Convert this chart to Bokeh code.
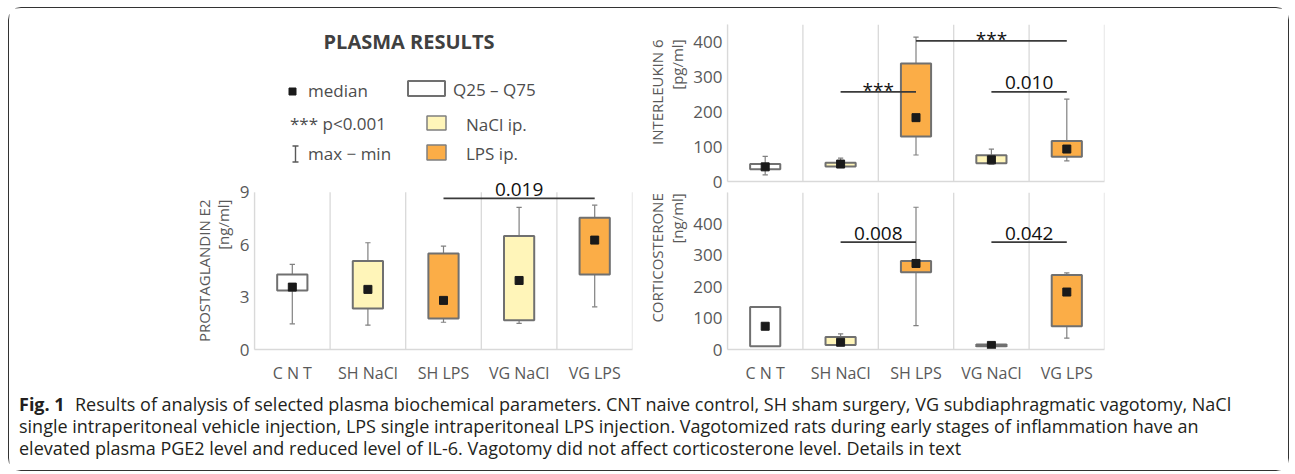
import math
from bokeh.plotting import figure
from bokeh.layouts import column, row
from bokeh.models import Range1d, FixedTicker, LinearAxis, ColumnDataSource
from bokeh.core.properties import value
from bokeh.embed import file_html
from bokeh.resources import INLINE

# ---------------- data ----------------
categories = ["C N T", "SH NaCl", "SH LPS", "VG NaCl", "VG LPS"]
treatment = ["CNT", "NaCl", "LPS", "NaCl", "LPS"]

pge2_q25 = [3.38, 2.35, 1.77, 1.68, 4.29]
pge2_q75 = [4.29, 5.06, 5.50, 6.49, 7.54]
pge2_med = [3.57, 3.44, 2.81, 3.95, 6.26]
pge2_max = [4.87, 6.11, 5.92, 8.13, 8.26]
pge2_min = [1.47, 1.39, 1.56, 1.49, 2.44]
pge2_ticks = [0, 3, 6, 9]
pge2_title = ["PROSTAGLANDIN E2", "[ng/ml]"]
pge2_sig_from = ["SH LPS"]
pge2_sig_to = ["VG LPS"]
pge2_sig_y = [8.65]
pge2_sig_label = ["0.019"]

il6_q25 = [35, 43, 129, 52, 71]
il6_q75 = [50, 54, 338, 75, 116]
il6_med = [42, 50, 183, 62, 93]
il6_max = [72, 67, 414, 93, 236]
il6_min = [19, 45, 76, 50, 59]
il6_ticks = [0, 100, 200, 300, 400]
il6_title = ["INTERLEUKIN 6", "[pg/ml]"]
il6_sig_from = ["SH NaCl", "SH LPS", "VG NaCl"]
il6_sig_to = ["SH LPS", "VG LPS", "VG LPS"]
il6_sig_y = [257, 403, 257]
il6_sig_label = ["***", "***", "0.010"]

cort_q25 = [10, 14, 246, 10, 74]
cort_q75 = [135, 40, 282, 16, 237]
cort_med = [74, 23, 274, 13, 183]
cort_max = [135, 50, 453, 16, 244]
cort_min = [10, 14, 76, 10, 36]
cort_ticks = [0, 100, 200, 300, 400]
cort_title = ["CORTICOSTERONE", "[ng/ml]"]
cort_sig_from = ["SH NaCl", "VG NaCl"]
cort_sig_to = ["SH LPS", "VG LPS"]
cort_sig_y = [342, 342]
cort_sig_label = ["0.008", "0.042"]

caption_lines = [
    "Results of analysis of selected plasma biochemical parameters. CNT naive control, SH sham surgery, VG subdiaphragmatic vagotomy, NaCl",
    "single intraperitoneal vehicle injection, LPS single intraperitoneal LPS injection. Vagotomized rats during early stages of inflammation have an",
    "elevated plasma PGE2 level and reduced level of IL-6. Vagotomy did not affect corticosterone level. Details in text",
]

# ---------------- styles ----------------
FONT = value("Open Sans")
FILL = {"CNT": "#FFFFFF", "NaCl": "#FFF5B9", "LPS": "#FBAD47"}
GRID = "#D9D9D9"
TXT = "#595959"
BOX_LINE = "#707070"


def panel(q25, q75, med, mx, mn, ymax, ytop, frame_h, ticks, sig_from, sig_to, sig_y,
          sig_label, w, h, bl, br, bt, bb, show_x):
    n = len(categories)
    p = figure(width=w, height=h, x_range=Range1d(0, n), y_range=Range1d(0, ymax),
               toolbar_location=None, output_backend="svg",
               x_axis_location="below" if show_x else None,
               min_border_left=bl, min_border_right=br, min_border_top=bt, min_border_bottom=bb,
               outline_line_color=None, background_fill_color="white", border_fill_color="white")
    p.xgrid.visible = False
    p.ygrid.visible = False
    xs = [i + 0.5 for i in range(n)]

    # separators between groups
    p.segment(x0=list(range(n + 1)), y0=[0] * (n + 1), x1=list(range(n + 1)), y1=[ytop] * (n + 1),
              line_color=GRID, line_width=1.3)

    if not show_x:
        ax = LinearAxis(ticker=FixedTicker(ticks=[]), axis_line_color=GRID, axis_line_width=1.3,
                        major_tick_line_color=None, minor_tick_line_color=None,
                        major_tick_out=0, minor_tick_out=0)
        p.add_layout(ax, "below")
    else:
        xa = p.xaxis[0]
        xa.ticker = FixedTicker(ticks=xs)
        xa.major_label_overrides = {x: c for x, c in zip(xs, categories)}
        xa.axis_line_color = GRID
        xa.axis_line_width = 1.3
        xa.major_tick_line_color = None
        xa.minor_tick_line_color = None
        xa.major_tick_out = 0
        xa.minor_tick_out = 0
        xa.major_label_text_font = "Open Sans"
        xa.major_label_text_font_size = "16px"
        xa.major_label_text_color = TXT
        xa.major_label_standoff = 12

    ya = p.yaxis[0]
    ya.ticker = FixedTicker(ticks=ticks)
    ya.bounds = (0, ytop)
    ya.axis_line_color = GRID
    ya.axis_line_width = 1.3
    ya.major_tick_line_color = None
    ya.minor_tick_line_color = None
    ya.major_tick_out = 0
    ya.minor_tick_out = 0
    ya.major_label_text_font = "Open Sans"
    ya.major_label_text_font_size = "17px"
    ya.major_label_text_color = TXT
    ya.major_label_standoff = 5

    src = ColumnDataSource(dict(x=xs, q25=q25, q75=q75, med=med, mx=mx, mn=mn,
                                fill=[FILL[t] for t in treatment]))
    # whiskers
    p.segment(x0="x", y0="mn", x1="x", y1="mx", source=src, line_color="#808080", line_width=1.2)
    cap = 0.035
    p.segment(x0=[x - cap for x in xs], y0=mx, x1=[x + cap for x in xs], y1=mx,
              line_color="#808080", line_width=1.2)
    p.segment(x0=[x - cap for x in xs], y0=mn, x1=[x + cap for x in xs], y1=mn,
              line_color="#808080", line_width=1.2)
    # boxes
    p.vbar(x="x", bottom="q25", top="q75", width=0.4, source=src, fill_color="fill",
           line_color=BOX_LINE, line_width=2)
    # medians
    p.scatter(x="x", y="med", source=src, marker="square", size=8, fill_color="#1A1A1A",
              line_color="#1A1A1A")

    # significance brackets
    idx = {c: i + 0.5 for i, c in enumerate(categories)}
    x0 = [idx[a] for a in sig_from]
    x1 = [idx[b] for b in sig_to]
    p.segment(x0=x0, y0=sig_y, x1=x1, y1=sig_y, line_color="#3A3A3A", line_width=1.6)
    unit = ymax / frame_h  # data units per pixel
    lab_y = [y + (2 if lab == "***" else 9) * unit for y, lab in zip(sig_y, sig_label)]
    tsrc = ColumnDataSource(dict(x=[(a + b) / 2 for a, b in zip(x0, x1)], y=lab_y, t=sig_label))
    p.text(x="x", y="y", text="t", source=tsrc, text_align="center", text_baseline="middle",
           text_font=FONT, text_font_size="19px", text_color="#111111")
    return p


def canvas(w, h, x0, x1, ybottom, ytop, bl=0, br=0):
    c = figure(width=w, height=h, x_range=Range1d(x0, x1), y_range=Range1d(ybottom, ytop),
               toolbar_location=None, output_backend="svg", x_axis_location=None,
               y_axis_location=None, min_border=0, min_border_left=bl, min_border_right=br,
               outline_line_color=None,
               background_fill_color="white", border_fill_color="white")
    c.xgrid.visible = False
    c.ygrid.visible = False
    return c


def ytitle(lines, w, h, page_x0, page_y0, line_x, top_y):
    """Rotated two-line axis title, aligned to the top of the plot area (page pixel coords)."""
    c = canvas(w, h, page_x0, page_x0 + w, -(page_y0 + h), -page_y0)
    c.text(x=line_x, y=[-top_y] * len(lines), text=lines, angle=math.pi / 2,
           text_align="right", text_baseline="middle", text_font=FONT, text_font_size="15px",
           text_color=TXT)
    return c


# ---------------- panels ----------------
pge = panel(pge2_q25, pge2_q75, pge2_med, pge2_max, pge2_min, 9.9, 9, 173, pge2_ticks,
            pge2_sig_from, pge2_sig_to, pge2_sig_y, pge2_sig_label, 405, 222, 20, 7, 7, 42, True)
pge_t = ytitle(pge2_title, 225, 222, 9.5, 169.5, [204, 223], 199)

il6 = panel(il6_q25, il6_q75, il6_med, il6_max, il6_min, 450, 450, 157, il6_ticks,
            il6_sig_from, il6_sig_to, il6_sig_y, il6_sig_label, 600, 184, 39, 184, 16, 11, False)
il6_t = ytitle(il6_title, 49, 184, 639.5, 8.5, [657, 677], 26)

cort = panel(cort_q25, cort_q75, cort_med, cort_max, cort_min, 500, 500, 157, cort_ticks,
             cort_sig_from, cort_sig_to, cort_sig_y, cort_sig_label, 600, 199, 39, 184, 0, 42, True)
cort_t = ytitle(cort_title, 49, 199, 639.5, 192.5, [657, 677], 193.5)

# ---------------- title + legend (coordinates in page pixels) ----------------
leg = canvas(630, 161, 9.5, 639.5, 169.5, 8.5)
leg.text(x=[409], y=[41], text=["PLASMA RESULTS"], text_align="center", text_baseline="middle",
         text_font=FONT, text_font_size="20px", text_font_style="bold", text_color="#404040")
leg.scatter(x=[292.5], y=[91.5], marker="square", size=7, fill_color="#1A1A1A", line_color="#1A1A1A")
leg.quad(left=[408], right=[445], top=[81], bottom=[96], fill_color="white", line_color=BOX_LINE,
         line_width=2)
leg.quad(left=[427, 427], right=[446, 446], top=[116, 145], bottom=[130, 160],
         fill_color=[FILL["NaCl"], FILL["LPS"]], line_color="#7F7F7F", line_width=1.5)
leg.segment(x0=[295.5, 292.5, 292.5], y0=[146, 146, 162], x1=[295.5, 298.5, 298.5], y1=[162, 146, 162],
            line_color="#595959", line_width=1.4)
leg.text(x=[308, 453, 290, 466, 308, 466], y=[90, 89, 123, 124, 153, 153],
         text=["median", "Q25 – Q75", "*** p<0.001", "NaCl ip.", "max − min", "LPS ip."],
         text_align="left", text_baseline="middle", text_font=FONT, text_font_size="17px",
         text_color="#4D4D4D")

# ---------------- caption (coordinates in page pixels) ----------------
cap = canvas(1279, 79, 9.5, 1288.5, 470.5, 391.5)
cap.text(x=[19], y=[404], text=["Fig. 1"], text_align="left", text_baseline="middle",
         text_font=FONT, text_font_size="18px", text_font_style="bold", text_color="#231F20")
cap.text(x=[75, 19, 19], y=[404, 426, 448], text=caption_lines, text_align="left",
         text_baseline="middle", text_font=FONT, text_font_size="18px", text_color="#231F20")

left = column(leg, row(pge_t, pge))
right = column(row(il6_t, il6), row(cort_t, cort))
grid = column(row(left, right), cap)
root = column(grid, styles={"border": "1.5px solid #333333", "border-radius": "13px",
                            "background-color": "white", "margin-left": "8px", "margin-top": "7px"})

open("out.html", "w").write(file_html(root, INLINE))
